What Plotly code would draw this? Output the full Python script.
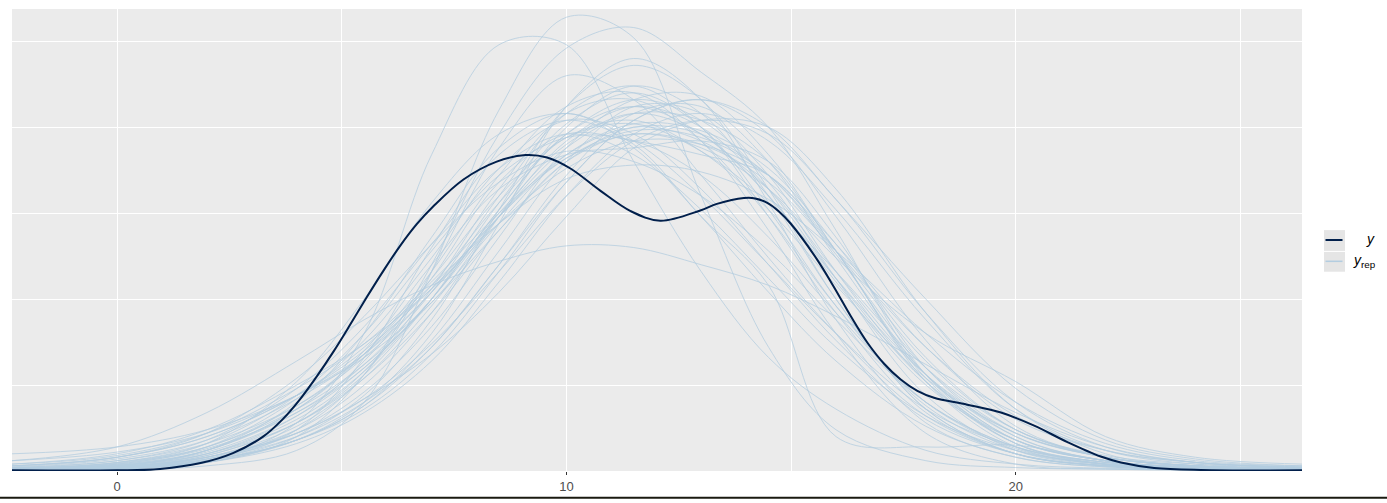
import plotly.graph_objects as go

# ---------------- data (density values in units of 1e-3) ----------------
# observed y density curve
y_x = [-2.34, 0.0, 0.96, 1.86, 2.58, 3.25, 3.69, 4.08, 4.45, 4.82, 5.19, 5.56, 5.93, 6.30, 6.67,
       7.04, 7.71, 8.45, 9.09, 9.57, 10.09, 10.76, 11.43, 12.09, 12.98, 13.35, 13.95, 14.2,
       14.47, 14.73, 14.99, 15.58, 15.95, 16.33, 16.70, 17.07, 17.44, 17.81, 18.18, 18.92,
       19.67, 20.41, 21.15, 21.89, 22.34, 23.08, 24.12, 26.37]
y_dens = [0.2, 0.2, 0.6, 2.3, 5.2, 10.0, 15.1, 21.0, 27.6, 34.8, 42.6, 50.6, 58.3, 65.5, 71.8,
          77.0, 84.8, 90.0, 91.9, 91.2, 88.0, 81.5, 75.6, 72.8, 75.8, 77.7, 79.4, 79.3,
          78.0, 75.5, 72.0, 61.5, 53.6, 45.0, 37.3, 31.2, 26.6, 23.3, 21.3, 19.3,
          17.0, 13.2, 8.4, 4.2, 2.5, 0.9, 0.3, 0.2]

# replicated densities y_rep, all on a shared grid
rep_x = [-2.34, 0, 2, 4, 5.5, 7, 8.5, 10, 11.5, 13, 14.5, 16, 18, 20, 22, 24, 26.37]
rep_01 = [0.2, 0.4, 1.5, 6, 20, 58, 105, 132, 126, 80, 36, 12, 3, 1, 0.5, 0.3, 0.2]
rep_02 = [0.3, 0.8, 3, 14, 40, 92, 124, 124, 90, 58, 33, 18, 6, 2, 0.8, 0.4, 0.2]
rep_03 = [0.2, 0.6, 2.5, 10, 28, 60, 98, 123, 129, 116, 100, 70, 28, 8, 2, 0.6, 0.3]
rep_04 = [3, 7, 17, 32, 44, 54, 61, 65.5, 65, 60, 54, 45, 31, 17, 7, 2.5, 1]
rep_05 = [0.2, 0.5, 3, 12, 33, 65, 92, 102, 95, 74, 54, 10, 7, 7.5, 3, 0.8, 0.3]
rep_06 = [1, 3, 9, 24, 42, 66, 88, 98, 92, 76, 56, 36, 16, 6, 2, 0.8, 0.4]
rep_07 = [0.5, 1.5, 6, 20, 40, 68, 94, 104, 94, 74, 52, 32, 13, 4, 1.2, 0.5, 0.3]
rep_08 = [1.5, 4, 11, 27, 45, 66, 84, 93, 90, 80, 64, 44, 20, 7, 2.5, 1, 0.5]
rep_09 = [0.6, 2, 7, 21, 38, 62, 88, 102, 98, 82, 60, 38, 15, 5, 1.5, 0.6, 0.3]
rep_10 = [0.8, 2.5, 8, 22, 40, 64, 86, 97, 96, 86, 68, 46, 20, 7, 2, 0.8, 0.4]
rep_11 = [0.3, 0.8, 3, 9, 18, 34, 58, 84, 102, 108, 98, 74, 38, 13, 4, 1.5, 0.7]
rep_12 = [0.2, 0.6, 2.5, 8, 17, 32, 55, 80, 98, 104, 96, 76, 44, 18, 6, 2, 0.8]
rep_13 = [0.4, 1, 3.5, 10, 20, 36, 60, 86, 104, 106, 90, 62, 28, 9, 3, 1, 0.5]
rep_14 = [0.3, 0.9, 3, 9, 19, 38, 64, 90, 106, 104, 86, 58, 26, 8, 2.5, 1, 0.5]
rep_15 = [0.5, 1.2, 4, 11, 21, 37, 58, 80, 96, 102, 98, 79, 46, 20, 7, 2.5, 1]
rep_16 = [1, 3, 8, 19, 33, 52, 75, 95, 104, 98, 80, 55, 25, 9, 3, 1.2, 0.6]
rep_17 = [0.4, 1.2, 4.5, 14, 28, 50, 78, 101, 110, 100, 76, 48, 19, 6, 2, 0.8, 0.4]
rep_18 = [2, 5, 12, 25, 37, 53, 72, 88, 96, 95, 86, 66, 36, 15, 6, 2.5, 1.2]
rep_19 = [0.6, 1.8, 6, 17, 31, 52, 80, 104, 112, 100, 74, 46, 17, 5, 1.5, 0.6, 0.3]
rep_20 = [0.8, 2.2, 7, 18, 31, 49, 72, 92, 101, 99, 88, 66, 33, 12, 4, 1.5, 0.7]
rep_21 = [0.3, 1, 4, 13, 27, 48, 74, 96, 106, 100, 82, 56, 26, 9, 3, 1.2, 0.6]
rep_22 = [1.2, 3.5, 9, 21, 34, 54, 78, 97, 102, 93, 76, 54, 27, 11, 4, 1.5, 0.8]
rep_23 = [0.5, 1.5, 5, 15, 29, 50, 76, 98, 108, 102, 84, 56, 22, 6, 1.8, 0.7, 0.3]
rep_24 = [1.5, 4, 10, 22, 35, 53, 74, 91, 99, 97, 86, 64, 32, 12, 4.5, 2, 1]
rep_25 = [0.4, 1.2, 4.5, 14, 29, 53, 82, 104, 108, 96, 74, 48, 20, 6.5, 2, 0.8, 0.4]
rep_26 = [0.7, 2, 6.5, 17, 30, 50, 76, 98, 106, 98, 80, 56, 28, 11, 4, 1.5, 0.7]
rep_27 = [3, 5.5, 11, 22, 33, 49, 70, 90, 100, 98, 86, 63, 30, 11, 4, 1.5, 0.8]
rep_28 = [0.5, 1.5, 5.5, 16, 30, 50, 74, 94, 104, 102, 90, 64, 27, 8, 2.5, 1, 0.5]
rep_29 = [0.3, 1, 4, 12, 25, 46, 74, 100, 112, 104, 80, 50, 18, 5, 1.5, 0.6, 0.3]
rep_30 = [0.8, 2.4, 7, 19, 34, 56, 80, 97, 101, 93, 78, 58, 30, 12, 4, 1.5, 0.7]
rep_31 = [0.5, 1.5, 6, 18, 34, 58, 86, 106, 110, 96, 70, 40, 11, 2, 0.6, 0.3, 0.2]
rep_32 = [2, 4.5, 11, 24, 37, 55, 75, 91, 98, 95, 84, 64, 36, 16, 6, 2.5, 1.2]
rep_33 = [1.5, 4, 10, 22, 36, 54, 72, 85, 89, 87, 79, 64, 40, 20, 8, 3, 1.5]
rep_34 = [0.3, 0.8, 3, 9, 19, 36, 60, 84, 102, 108, 100, 79, 50, 24, 9, 3.5, 1.5]
rep_35 = [0.5, 1.5, 5, 14, 27, 46, 70, 90, 98, 94, 82, 62, 40, 26, 10, 4, 2]
rep_36 = [0.8, 2.5, 8, 26, 50, 78, 98, 104, 96, 80, 60, 40, 18, 7, 2.5, 1, 0.5]
rep_37 = [0.2, 0.6, 3, 10, 22, 44, 76, 106, 118, 108, 82, 50, 18, 5, 1.5, 0.6, 0.3]
rep_38 = [0.3, 0.8, 3.5, 12, 28, 58, 94, 115, 108, 86, 62, 40, 16, 5, 1.5, 0.6, 0.3]
rep_39 = [0.3, 0.9, 3.5, 11, 23, 42, 68, 94, 108, 109, 92, 64, 28, 9, 3, 1.2, 0.6]
rep_40 = [5, 7, 12, 22, 34, 52, 74, 92, 100, 96, 82, 58, 28, 10, 3, 1, 0.5]
rep_41 = [0.6, 1.8, 6, 18, 35, 60, 82, 92, 94, 96, 90, 68, 30, 10, 3, 1, 0.5]
rep_42 = [0.4, 1.2, 5, 16, 32, 56, 84, 98, 96, 92, 86, 64, 26, 7, 2, 0.8, 0.4]
rep_43 = [0.2, 0.6, 2.5, 9, 20, 40, 72, 106, 120, 108, 78, 44, 14, 4, 1.2, 0.5, 0.2]
rep_44 = [0.5, 1.2, 4, 11, 21, 34, 52, 74, 94, 102, 100, 82, 46, 18, 5, 1.5, 0.6]

rep_series = [rep_01, rep_02, rep_03, rep_04, rep_05, rep_06, rep_07, rep_08, rep_09, rep_10,
              rep_11, rep_12, rep_13, rep_14, rep_15, rep_16, rep_17, rep_18, rep_19, rep_20,
              rep_21, rep_22, rep_23, rep_24, rep_25, rep_26, rep_27, rep_28, rep_29, rep_30,
              rep_31, rep_32, rep_33, rep_34, rep_35, rep_36, rep_37, rep_38, rep_39, rep_40,
              rep_41, rep_42, rep_43, rep_44]

x_tick_vals = [0, 10, 20]
x_tick_text = ["0", "10", "20"]

UNIT = 1e-3

# ---------------- styles ----------------
DARK = "#011f4b"
LIGHT = "#b3cde0"
PANEL = "#ebebeb"
FONT = "Liberation Sans, Arial, sans-serif"

fig = go.Figure()
for s in rep_series:
    fig.add_trace(go.Scatter(
        x=rep_x, y=[v * UNIT for v in s], mode="lines",
        line=dict(color=LIGHT, width=1, shape="spline", smoothing=1.0),
        opacity=0.75, hoverinfo="skip", showlegend=False))

fig.add_trace(go.Scatter(
    x=y_x, y=[v * UNIT for v in y_dens], mode="lines",
    line=dict(color=DARK, width=2, shape="spline", smoothing=1.0),
    hoverinfo="skip", showlegend=False))

W, H = 1387, 503
L, R, T, B = 12, 85, 9, 28
pw, ph = W - L - R, H - T - B


def px(xp):
    return (xp - L) / pw


def py(yp):
    return (H - B - yp) / ph


shapes = []
# legend key backgrounds
for y0, y1 in [(232, 253), (254, 274)]:
    shapes.append(dict(type="rect", xref="paper", yref="paper",
                       x0=px(1324), x1=px(1345), y0=py(y1), y1=py(y0),
                       fillcolor="#e5e5e5", line=dict(width=0), layer="below"))
shapes.append(dict(type="line", xref="paper", yref="paper",
                   x0=px(1325.5), x1=px(1342.5), y0=py(242), y1=py(242),
                   line=dict(color=DARK, width=2)))
shapes.append(dict(type="line", xref="paper", yref="paper",
                   x0=px(1325.5), x1=px(1342.5), y0=py(263.5), y1=py(263.5),
                   line=dict(color=LIGHT, width=1.5)))
# thin dark rule at the very bottom of the image
shapes.append(dict(type="line", xref="paper", yref="paper",
                   x0=px(0), x1=px(W), y0=py(502), y1=py(502),
                   line=dict(color="#1a1a10", width=2)))

annotations = [
    dict(xref="paper", yref="paper", x=px(1370), y=py(241), text="<i>y</i>",
         showarrow=False, xanchor="center", yanchor="middle",
         font=dict(family=FONT, size=14, color="#000000")),
    dict(xref="paper", yref="paper", x=px(1351), y=py(263), text="<i>y</i><sub>rep</sub>",
         showarrow=False, xanchor="left", yanchor="middle",
         font=dict(family=FONT, size=14, color="#000000")),
]

fig.update_layout(
    width=W, height=H,
    margin=dict(l=L, r=R, t=T, b=B, pad=0),
    paper_bgcolor="white", plot_bgcolor=PANEL,
    showlegend=False,
    shapes=shapes, annotations=annotations,
    xaxis=dict(range=[-2.337, 26.37], tickvals=x_tick_vals, ticktext=x_tick_text,
               showgrid=True, gridcolor="white", gridwidth=1.2,
               minor=dict(dtick=5, tick0=0, showgrid=True, gridcolor="white", gridwidth=0.8),
               ticks="outside", ticklen=3, tickwidth=1, tickcolor="#333333",
               tickfont=dict(family=FONT, size=13, color="#4d4d4d"),
               zeroline=False, showline=False, fixedrange=True),
    yaxis=dict(range=[0, 0.1344], dtick=0.025, tick0=0, showticklabels=False,
               showgrid=True, gridcolor="white", gridwidth=1.2,
               ticks="", zeroline=False, showline=False, fixedrange=True),
)

fig.write_html("out.html")
